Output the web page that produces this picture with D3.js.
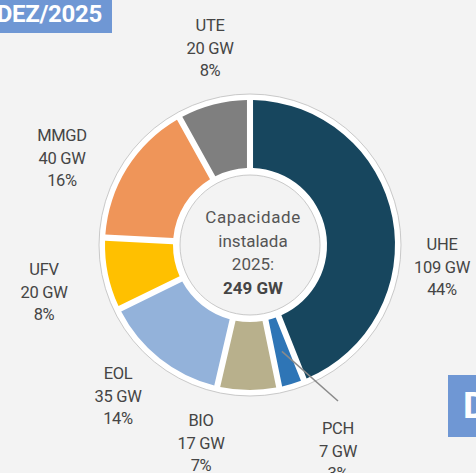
<!DOCTYPE html>
<html>
<head>
<meta charset="utf-8">
<script src="https://cdn.jsdelivr.net/npm/d3@7"></script>
<style>
    html, body { margin: 0; padding: 0; background: #f3f3f3; }
    svg { display: block; font-family: Roboto, "Liberation Sans", sans-serif; }
</style>
</head>
<body>
<script>
// chart values
const sources = ["UHE", "PCH", "BIO", "EOL", "UFV", "MMGD", "UTE"]
const capacityGW = [109, 7, 17, 35, 20, 40, 20]
const shareLabels = ["44%", "3%", "7%", "14%", "8%", "16%", "8%"]
const sourceColors = ["#17465e", "#2e75b6", "#b8b08c", "#93b2da", "#ffc000", "#ef9559", "#7f7f7f"]
const centerLines = ["Capacidade", "instalada", "2025:"]
const centerTotal = "249 GW"
const badgeText = "DEZ/2025"

document.addEventListener("DOMContentLoaded", function() {

    const w = 476
    const h = 473
    const cx = 250
    const cy = 245
    const outerR = 145
    const innerR = 77

    // label anchor (middle line) relative to the donut center
    const labelAt = [[192, 22], [88, 206], [-49, 198], [-132, 151], [-206, 47], [-188, -87], [-40, -197]]

    const data = sources.map((s, i) => ({name: s, gw: capacityGW[i], pct: shareLabels[i], color: sourceColors[i], at: labelAt[i]}))

    const svg = d3.select("body")
        .append("svg")
        .attr("width", w)
        .attr("height", h)

    svg.append("rect")
        .attr("width", w)
        .attr("height", h)
        .attr("fill", "#f3f3f3")

    // top-left badge (cut off at the left edge)
    svg.append("rect")
        .attr("x", 0)
        .attr("y", 0)
        .attr("width", 112)
        .attr("height", 33)
        .attr("fill", "#6f97d4")
    svg.append("text")
        .attr("x", 102)
        .attr("y", 21.5)
        .attr("text-anchor", "end")
        .attr("font-size", 24)
        .attr("font-weight", "bold")
        .attr("letter-spacing", -0.3)
        .attr("fill", "#fff")
        .text(badgeText)

    // bottom-right badge (cut off)
    svg.append("rect")
        .attr("x", 448)
        .attr("y", 375)
        .attr("width", 60)
        .attr("height", 62)
        .attr("fill", "#6f97d4")
    svg.append("text")
        .attr("x", 463)
        .attr("y", 418)
        .attr("font-size", 37)
        .attr("font-weight", "bold")
        .attr("fill", "#fff")
        .text("D")

    const g = svg.append("g")
        .attr("transform", "translate(" + cx + ", " + cy + ")")

    // white ring behind the slices
    g.append("circle")
        .attr("r", 151)
        .attr("fill", "#fff")
        .attr("stroke", "#c9c9c9")
        .attr("stroke-width", 1)

    const pie = d3.pie()
        .value(d => d.gw)
        .sort(null)

    const arc = d3.arc()
        .innerRadius(innerR)
        .outerRadius(outerR)
        .padAngle(0.037)

    const slices = pie(data)

    g.selectAll("path.slice")
        .data(slices)
        .enter()
        .append("path")
        .attr("class", "slice")
        .attr("d", arc)
        .attr("fill", d => d.data.color)

    // inner hole
    g.append("circle")
        .attr("r", 70)
        .attr("fill", "#f3f3f3")
        .attr("stroke", "#c9c9c9")
        .attr("stroke-width", 1)

    // leader line for the small PCH slice
    const pch = slices[1]
    const c = arc.centroid(pch)
    g.append("line")
        .attr("x1", c[0])
        .attr("y1", c[1])
        .attr("x2", pch.data.at[0])
        .attr("y2", pch.data.at[1] - 50)
        .attr("stroke", "#8a8a8a")
        .attr("stroke-width", 1.5)

    // outside labels
    const labels = g.selectAll("text.lbl")
        .data(slices)
        .enter()
        .append("text")
        .attr("class", "lbl")
        .attr("text-anchor", "middle")
        .attr("font-size", 16.5)
        .attr("fill", "#454545")
        .attr("letter-spacing", -0.3)

    labels.each(function(d) {
        const t = d3.select(this)
        const lines = [d.data.name, d.data.gw + " GW", d.data.pct]
        lines.forEach((l, i) => {
            t.append("tspan")
                .attr("x", d.data.at[0])
                .attr("y", d.data.at[1] - 17 + i * 22.5)
                .text(l)
        })
    })

    // center text
    const ct = g.append("text")
        .attr("text-anchor", "middle")
        .attr("font-size", 17)
        .attr("fill", "#555")
    centerLines.forEach((l, i) => {
        ct.append("tspan")
            .attr("x", 3)
            .attr("y", -22 + i * 23.5)
            .attr("letter-spacing", i == 0 ? 0.6 : 0)
            .text(l)
    })
    ct.append("tspan")
        .attr("x", 3)
        .attr("y", -22 + 3 * 23.5)
        .attr("font-weight", "bold")
        .attr("fill", "#454545")
        .text(centerTotal)
})
</script>
</body>
</html>
